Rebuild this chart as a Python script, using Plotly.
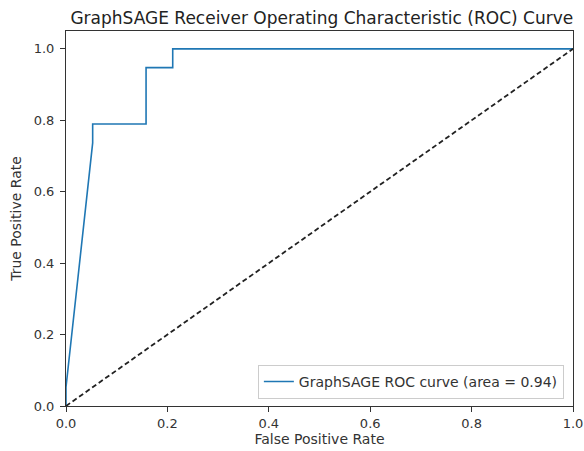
import plotly.graph_objects as go

fpr = [0.0, 0.0, 0.0526, 0.0526, 0.1579, 0.1579, 0.2105, 0.2105, 1.0]
tpr = [0.0, 0.0526, 0.7368, 0.7895, 0.7895, 0.9474, 0.9474, 1.0, 1.0]
diag_x = [0.0, 1.0]
diag_y = [0.0, 1.0]
tick_vals = [0.0, 0.2, 0.4, 0.6, 0.8, 1.0]
tick_text = ["0.0", "0.2", "0.4", "0.6", "0.8", "1.0"]

FONT = "DejaVu Sans"

fig = go.Figure()
fig.add_trace(go.Scatter(x=fpr, y=tpr, mode="lines",
                         line=dict(color="#1f77b4", width=1.6),
                         name="GraphSAGE ROC curve (area = 0.94)"))
fig.add_trace(go.Scatter(x=diag_x, y=diag_y, mode="lines",
                         line=dict(color="#222222", width=1.8, dash="5px,3px"),
                         showlegend=False))

axis_common = dict(showgrid=False, zeroline=False, showline=True, linecolor="#333333",
                   linewidth=1, mirror=True, ticks="outside", ticklen=5, tickcolor="#333333",
                   tickvals=tick_vals, ticktext=tick_text, automargin=False,
                   tickfont=dict(family=FONT, size=13, color="#333333"),
                   title_font=dict(family=FONT, size=14, color="#333333"))

fig.update_layout(
    width=584, height=451,
    margin=dict(l=66, r=11, t=31, b=45),
    paper_bgcolor="white", plot_bgcolor="white",
    title=dict(text="GraphSAGE Receiver Operating Characteristic (ROC) Curve",
               x=(66 + 573) / 2 / 584 + 0.004, xanchor="center", xref="container",
               y=1 - 18.5 / 451, yanchor="middle",
               font=dict(family=FONT, size=17, color="#222222")),
    xaxis=dict(range=[0, 1], title=dict(text="False Positive Rate", standoff=4), **axis_common),
    yaxis=dict(range=[0, 1.05], title=dict(text="True Positive Rate", standoff=8),
               ticklabelstandoff=3, **axis_common),
    legend=dict(x=0.982, y=0.019, xanchor="right", yanchor="bottom",
                bgcolor="white", bordercolor="#cccccc", borderwidth=1,
                font=dict(family=FONT, size=14, color="#333333")),
    showlegend=True,
)

fig.write_html("out.html",
               config={"displayModeBar": False},
               post_script="document.body.style.margin='0';document.body.style.overflow='hidden';")
